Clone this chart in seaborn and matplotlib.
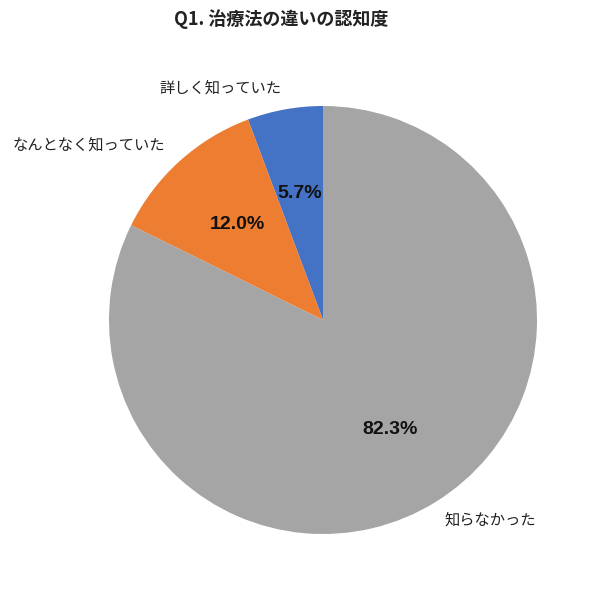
import matplotlib
matplotlib.use("Agg")
import matplotlib.pyplot as plt
import seaborn as sns

sns.set_theme(style="white")
plt.rcParams['font.family'] = ['Noto Sans CJK JP', 'DejaVu Sans']

# データ
labels = ["詳しく知っていた", "なんとなく知っていた", "知らなかった"]
values = [5.7, 12.0, 82.3]
colors = ["#4472C4", "#ED7D31", "#A5A5A5"]

fig = plt.figure(figsize=(6, 5.98), dpi=100)
ax = fig.add_axes([109 / 600, 64 / 598, 428 / 600, 428 / 598])

wedges, texts, autotexts = ax.pie(
    values, labels=labels, colors=colors, startangle=90, counterclock=True,
    autopct="%1.1f%%", pctdistance=0.6, labeldistance=1.1,
    wedgeprops={"linewidth": 0, "edgecolor": "none"},
    textprops={"fontsize": 11, "color": "#222222"},
)
ax.set_xlim(-1, 1)
ax.set_ylim(-1, 1)
ax.set_aspect("equal")

for t in autotexts:
    t.set_fontsize(14)
    t.set_fontweight("bold")
    t.set_color("#111111")
    t.set_family(["Liberation Sans", "DejaVu Sans"])

# Excel風のラベル位置に寄せる
texts[2].set_position((0.57, -0.935))
texts[2].set_ha("left")
autotexts[2].set_position((0.313, -0.514))

fig.suptitle("Q1. 治療法の違いの認知度", x=0.468, y=0.985, fontsize=13, fontweight="bold", color="#222222")

plt.savefig("out.png", dpi=100)
